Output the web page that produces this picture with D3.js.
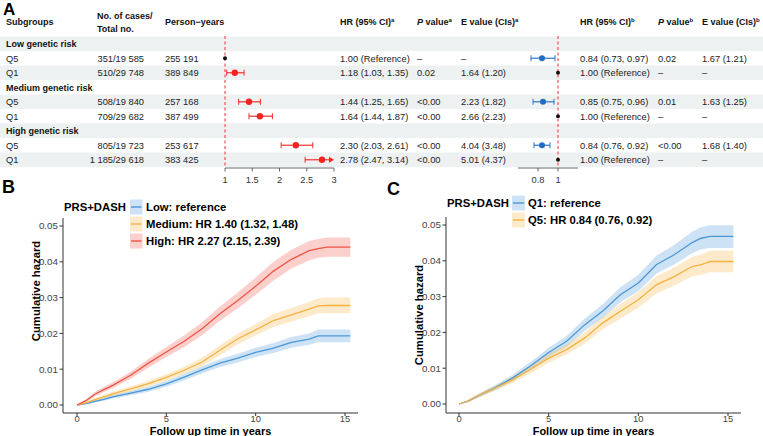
<!DOCTYPE html>
<html>
<head>
<meta charset="utf-8">
<script src="https://cdn.jsdelivr.net/npm/d3@7"></script>
<style>
  body { margin: 0; background: #fff; }
  svg { font-family: "Liberation Sans", Arial, Helvetica, sans-serif; }
</style>
</head>
<body>
<svg id="chart" width="763" height="436"></svg>
<script>
// ---- Panel A table data ----
const subgroups = ["Low genetic risk", "Q5", "Q1", "Medium genetic risk", "Q5", "Q1", "High genetic risk", "Q5", "Q1"];
const isGroup = [true, false, false, true, false, false, true, false, false];
const cases = ["", "351/19 585", "510/29 748", "", "508/19 840", "709/29 682", "", "805/19 723", "1 185/29 618"];
const personYears = ["", "255 191", "389 849", "", "257 168", "387 499", "", "253 617", "383 425"];

const hrA = [null, 1.00, 1.18, null, 1.44, 1.64, null, 2.30, 2.78];
const hrALo = [null, 1.00, 1.03, null, 1.25, 1.44, null, 2.03, 2.47];
const hrAHi = [null, 1.00, 1.35, null, 1.65, 1.87, null, 2.61, 3.14];
const hrAText = ["", "1.00 (Reference)", "1.18 (1.03, 1.35)", "", "1.44 (1.25, 1.65)", "1.64 (1.44, 1.87)", "", "2.30 (2.03, 2.61)", "2.78 (2.47, 3.14)"];
const pA = ["", "–", "0.02", "", "<0.00", "<0.00", "", "<0.00", "<0.00"];
const eA = ["", "–", "1.64 (1.20)", "", "2.23 (1.82)", "2.66 (2.23)", "", "4.04 (3.48)", "5.01 (4.37)"];

const hrB = [null, 0.84, 1.00, null, 0.85, 1.00, null, 0.84, 1.00];
const hrBLo = [null, 0.73, 1.00, null, 0.75, 1.00, null, 0.76, 1.00];
const hrBHi = [null, 0.97, 1.00, null, 0.96, 1.00, null, 0.92, 1.00];
const hrBText = ["", "0.84 (0.73, 0.97)", "1.00 (Reference)", "", "0.85 (0.75, 0.96)", "1.00 (Reference)", "", "0.84 (0.76, 0.92)", "1.00 (Reference)"];
const pB = ["", "0.02", "–", "", "0.01", "–", "", "<0.00", "–"];
const eB = ["", "1.67 (1.21)", "–", "", "1.63 (1.25)", "–", "", "1.68 (1.40)", "–"];

const forestATicks = [1, 1.5, 2, 2.5, 3];
const forestBTicks = [0.8, 1];

// ---- Panel B / C cumulative hazard data ----
const times = [0, 0.5, 1, 1.5, 2, 3, 4, 5, 6, 7, 8, 9, 10, 11, 12, 13, 13.5, 14, 15.3];

const lowEst = [0, 0.0004, 0.0010, 0.0016, 0.0023, 0.0033, 0.0044, 0.0059, 0.0078, 0.0098, 0.0117, 0.0131, 0.0147, 0.0159, 0.0175, 0.0184, 0.0193, 0.0193, 0.0193];
const lowLo = [0, 0.0002, 0.0007, 0.0012, 0.0018, 0.0027, 0.0037, 0.0051, 0.0069, 0.0088, 0.0106, 0.0119, 0.0134, 0.0145, 0.0160, 0.0168, 0.0175, 0.0175, 0.0175];
const lowHi = [0, 0.0006, 0.0013, 0.0020, 0.0028, 0.0039, 0.0051, 0.0067, 0.0087, 0.0108, 0.0128, 0.0143, 0.0160, 0.0173, 0.0190, 0.0200, 0.0211, 0.0211, 0.0211];

const medEst = [0, 0.0006, 0.0015, 0.0023, 0.0031, 0.0045, 0.0060, 0.0077, 0.0097, 0.0120, 0.0153, 0.0185, 0.0210, 0.0236, 0.0252, 0.0268, 0.0277, 0.0278, 0.0278];
const medLo = [0, 0.0004, 0.0011, 0.0018, 0.0025, 0.0038, 0.0052, 0.0068, 0.0087, 0.0108, 0.0139, 0.0170, 0.0194, 0.0218, 0.0233, 0.0248, 0.0256, 0.0256, 0.0256];
const medHi = [0, 0.0008, 0.0019, 0.0028, 0.0037, 0.0052, 0.0068, 0.0086, 0.0107, 0.0132, 0.0167, 0.0200, 0.0226, 0.0254, 0.0271, 0.0288, 0.0298, 0.0300, 0.0300];

const highEst = [0, 0.0012, 0.0030, 0.0043, 0.0055, 0.0083, 0.0117, 0.0148, 0.0178, 0.0213, 0.0255, 0.0292, 0.0332, 0.0374, 0.0407, 0.0431, 0.0437, 0.0441, 0.0441];
const highLo = [0, 0.0008, 0.0024, 0.0036, 0.0047, 0.0073, 0.0105, 0.0134, 0.0162, 0.0195, 0.0235, 0.0270, 0.0308, 0.0348, 0.0381, 0.0404, 0.0411, 0.0414, 0.0414];
const highHi = [0, 0.0016, 0.0036, 0.0050, 0.0063, 0.0093, 0.0129, 0.0162, 0.0194, 0.0231, 0.0275, 0.0314, 0.0356, 0.0400, 0.0434, 0.0458, 0.0464, 0.0468, 0.0468];

const q1Est = [0, 0.0008, 0.0021, 0.0033, 0.0045, 0.0073, 0.0107, 0.0144, 0.0175, 0.0221, 0.0259, 0.0305, 0.0338, 0.0389, 0.0417, 0.0451, 0.0463, 0.0468, 0.0468];
const q1Lo = [0, 0.0005, 0.0016, 0.0027, 0.0038, 0.0064, 0.0096, 0.0131, 0.0160, 0.0204, 0.0240, 0.0284, 0.0315, 0.0364, 0.0390, 0.0421, 0.0432, 0.0436, 0.0436];
const q1Hi = [0, 0.0011, 0.0026, 0.0039, 0.0052, 0.0082, 0.0118, 0.0157, 0.0190, 0.0238, 0.0278, 0.0326, 0.0361, 0.0414, 0.0444, 0.0481, 0.0494, 0.0499, 0.0499];

const q5Est = [0, 0.0008, 0.0021, 0.0033, 0.0044, 0.0068, 0.0097, 0.0128, 0.0152, 0.0184, 0.0226, 0.0259, 0.0291, 0.0333, 0.0356, 0.0384, 0.0389, 0.0398, 0.0398];
const q5Lo = [0, 0.0005, 0.0016, 0.0027, 0.0037, 0.0059, 0.0086, 0.0115, 0.0138, 0.0168, 0.0208, 0.0239, 0.0269, 0.0309, 0.0331, 0.0357, 0.0361, 0.0368, 0.0368];
const q5Hi = [0, 0.0011, 0.0026, 0.0039, 0.0051, 0.0077, 0.0108, 0.0141, 0.0166, 0.0200, 0.0244, 0.0279, 0.0313, 0.0357, 0.0381, 0.0411, 0.0417, 0.0428, 0.0428];

const xTicks = [0, 5, 10, 15];
const yTicks = [0, 0.01, 0.02, 0.03, 0.04, 0.05];

const legendB = ["Low: reference", "Medium: HR 1.40 (1.32, 1.48)", "High: HR 2.27 (2.15, 2.39)"];
const legendC = ["Q1: reference", "Q5: HR 0.84 (0.76, 0.92)"];

const BLUE = "#4a98d6", ORANGE = "#f6b240", RED = "#ef5444";

const svg = d3.select("#chart");

// ================= Panel A =================
const rowY = d3.scaleBand().domain(d3.range(subgroups.length)).range([36.5, 167]);
const rc = i => rowY(i) + rowY.bandwidth() / 2;

svg.append("text").attr("x", 3).attr("y", 15).attr("font-size", 17).attr("font-weight", "bold").text("A");

// row shading
svg.append("g").selectAll("rect").data(d3.range(subgroups.length).filter(i => i % 2 === 0))
  .join("rect")
  .attr("x", 0).attr("width", 763)
  .attr("y", i => rowY(i)).attr("height", rowY.bandwidth())
  .attr("fill", "#eef1f1");

// headers
const hdr = svg.append("g").attr("font-size", 9).attr("font-weight", "bold").attr("fill", "#111");
hdr.append("text").attr("x", 6).attr("y", 25).text("Subgroups");
hdr.append("text").attr("x", 97).attr("y", 19).text("No. of cases/");
hdr.append("text").attr("x", 97).attr("y", 32).text("Total no.");
hdr.append("text").attr("x", 165).attr("y", 25).text("Person\u2212years");

function supHeader(x, parts, sup) {
  const t = hdr.append("text").attr("x", x).attr("y", 25);
  parts.forEach(p => t.append("tspan").attr("font-style", p.italic ? "italic" : null).text(p.s));
  t.append("tspan").attr("font-size", 6).attr("dy", -3.5).text(sup);
}
supHeader(340, [{ s: "HR (95% CI)" }], "a");
supHeader(417, [{ s: "P", italic: true }, { s: " value" }], "a");
supHeader(461, [{ s: "E value (CIs)" }], "a");
supHeader(580, [{ s: "HR (95% CI)" }], "b");
supHeader(658, [{ s: "P", italic: true }, { s: " value" }], "b");
supHeader(702, [{ s: "E value (CIs)" }], "b");

// body text columns
const body = svg.append("g").attr("font-size", 9.3).attr("fill", "#222");
function column(values, x, anchor) {
  body.append("g").selectAll("text").data(values).join("text")
    .attr("x", x).attr("y", (d, i) => rc(i) + 3.3)
    .attr("text-anchor", anchor || "start")
    .text(d => d);
}
body.append("g").selectAll("text").data(subgroups).join("text")
  .attr("x", 6).attr("y", (d, i) => rc(i) + 3.3)
  .attr("font-weight", (d, i) => isGroup[i] ? "bold" : null)
  .attr("font-size", (d, i) => isGroup[i] ? 9 : 9.3)
  .attr("fill", (d, i) => isGroup[i] ? "#111" : "#222")
  .text(d => d);
column(cases, 144, "end");
column(personYears, 165);
column(hrAText, 340);
column(pA, 417);
column(eA, 461);
column(hrBText, 580);
column(pB, 658);
column(eB, 702);

// forest plot helper
function forest(scale, ticks, est, lo, hi, color, dotR) {
  const g = svg.append("g");
  const [d0, d1] = scale.domain();
  g.append("line")
    .attr("x1", scale(1)).attr("x2", scale(1))
    .attr("y1", 36).attr("y2", 168)
    .attr("stroke", "#f03030").attr("stroke-width", 1).attr("stroke-dasharray", "3,2.5");
  // axis
  g.append("line").attr("x1", scale(d0)).attr("x2", scale(d1)).attr("y1", 168).attr("y2", 168)
    .attr("stroke", "#444").attr("stroke-width", 0.8);
  g.selectAll(".tk").data(ticks).join("line")
    .attr("x1", d => scale(d)).attr("x2", d => scale(d)).attr("y1", 168).attr("y2", 171.5)
    .attr("stroke", "#444").attr("stroke-width", 0.8);
  g.selectAll(".tl").data(ticks).join("text")
    .attr("x", d => scale(d)).attr("y", 183).attr("text-anchor", "middle")
    .attr("font-size", 9.3).attr("fill", "#333").text(d => d);

  est.forEach((e, i) => {
    if (e === null) return;
    const y = rc(i);
    if (e === 1 && lo[i] === 1) {
      g.append("circle").attr("cx", scale(e)).attr("cy", y).attr("r", 2).attr("fill", "#111");
      return;
    }
    const over = hi[i] > d1;
    const x1 = scale(lo[i]), x2 = scale(Math.min(hi[i], d1));
    g.append("line").attr("x1", x1).attr("x2", over ? x2 - 3 : x2).attr("y1", y).attr("y2", y)
      .attr("stroke", color).attr("stroke-width", 1.3).attr("opacity", 0.85);
    g.append("line").attr("x1", x1).attr("x2", x1).attr("y1", y - 3).attr("y2", y + 3)
      .attr("stroke", color).attr("stroke-width", 1.1).attr("opacity", 0.85);
    if (over) {
      g.append("path").attr("d", `M${x2},${y} L${x2 - 5},${y - 3} L${x2 - 5},${y + 3} Z`).attr("fill", color);
    } else {
      g.append("line").attr("x1", x2).attr("x2", x2).attr("y1", y - 3).attr("y2", y + 3)
        .attr("stroke", color).attr("stroke-width", 1.1).attr("opacity", 0.85);
    }
    g.append("circle").attr("cx", scale(e)).attr("cy", y).attr("r", dotR).attr("fill", color);
  });
}
forest(d3.scaleLinear().domain([1, 3]).range([225, 334]), forestATicks, hrA, hrALo, hrAHi, "#f52222", 3.2);
forest(d3.scaleLinear().domain([0.6, 1.2]).range([518, 578]), forestBTicks, hrB, hrBLo, hrBHi, "#1f6ec4", 3);

// ================= Panels B & C =================
function hazardPanel(opts) {
  const { letter, lx, ly, px0, px1, py0, py1, x, y, series, legend, legY, keyX, keyW, labX, titleY } = opts;
  svg.append("text").attr("x", lx).attr("y", ly).attr("font-size", 18).attr("font-weight", "bold").text(letter);
  const g = svg.append("g");

  series.forEach(s => {
    const pts = times.map((t, i) => ({ t, e: s.est[i], lo: s.lo[i], hi: s.hi[i] }));
    g.append("path").datum(pts)
      .attr("d", d3.area().x(d => x(d.t)).y0(d => y(d.lo)).y1(d => y(d.hi)))
      .attr("fill", s.color).attr("opacity", 0.28);
  });
  series.forEach(s => {
    const pts = times.map((t, i) => ({ t, e: s.est[i] }));
    g.append("path").datum(pts)
      .attr("d", d3.line().x(d => x(d.t)).y(d => y(d.e)))
      .attr("fill", "none").attr("stroke", s.color).attr("stroke-width", 1.3);
  });

  // axes lines
  g.append("line").attr("x1", px0).attr("x2", px0).attr("y1", py0).attr("y2", py1).attr("stroke", "#333").attr("stroke-width", 1);
  g.append("line").attr("x1", px0).attr("x2", px1).attr("y1", py1).attr("y2", py1).attr("stroke", "#333").attr("stroke-width", 1);
  g.selectAll(".yt").data(yTicks).join("line")
    .attr("x1", px0 - 3.5).attr("x2", px0).attr("y1", d => y(d)).attr("y2", d => y(d)).attr("stroke", "#333");
  g.selectAll(".yl").data(yTicks).join("text")
    .attr("x", px0 - 5).attr("y", d => y(d) + 3.4).attr("text-anchor", "end")
    .attr("font-size", 9.8).attr("fill", "#444").text(d3.format(".2f"));
  g.selectAll(".xt").data(xTicks).join("line")
    .attr("x1", d => x(d)).attr("x2", d => x(d)).attr("y1", py1).attr("y2", py1 + 3).attr("stroke", "#333");
  g.selectAll(".xl").data(xTicks).join("text")
    .attr("x", d => x(d)).attr("y", py1 + 9.4).attr("text-anchor", "middle")
    .attr("font-size", 9.4).attr("fill", "#444").text(d => d);

  g.append("text").attr("x", (px0 + px1) / 2).attr("y", 434.8).attr("text-anchor", "middle")
    .attr("font-size", 11).attr("font-weight", "bold").text("Follow up time in years");
  g.append("text").attr("transform", `translate(${px0 - 23},${titleY}) rotate(-90)`).attr("text-anchor", "middle")
    .attr("font-size", 11.3).attr("font-weight", "bold").text("Cumulative hazard");

  // legend
  const lg = svg.append("g").attr("font-size", 11.3).attr("font-weight", "bold");
  lg.append("text").attr("x", px0 + 1).attr("y", legY[0] + 4).text("PRS+DASH");
  legend.forEach((lab, i) => {
    const cy = legY[i];
    lg.append("rect").attr("x", keyX).attr("y", cy - 7.5).attr("width", keyW).attr("height", 15)
      .attr("fill", series[i].color).attr("opacity", 0.28);
    lg.append("line").attr("x1", keyX + 1).attr("x2", keyX + keyW - 1).attr("y1", cy).attr("y2", cy)
      .attr("stroke", series[i].color).attr("stroke-width", 1.4);
    lg.append("text").attr("x", labX).attr("y", cy + 4).text(lab);
  });
}

hazardPanel({
  letter: "B", lx: 2, ly: 193,
  px0: 63, px1: 358, py0: 218, py1: 413,
  x: d3.scaleLinear().domain([0, 15]).range([77, 345]),
  y: d3.scaleLinear().domain([0, 0.05]).range([405, 226]),
  series: [
    { est: lowEst, lo: lowLo, hi: lowHi, color: BLUE },
    { est: medEst, lo: medLo, hi: medHi, color: ORANGE },
    { est: highEst, lo: highLo, hi: highHi, color: RED }
  ],
  legend: legendB, legY: [207, 224, 241], keyX: 130, keyW: 12.5, labX: 146, titleY: 291
});

hazardPanel({
  letter: "C", lx: 387, ly: 195,
  px0: 446, px1: 741, py0: 217, py1: 413,
  x: d3.scaleLinear().domain([0, 15]).range([459, 728]),
  y: d3.scaleLinear().domain([0, 0.05]).range([404, 225]),
  series: [
    { est: q1Est, lo: q1Lo, hi: q1Hi, color: BLUE },
    { est: q5Est, lo: q5Lo, hi: q5Hi, color: ORANGE }
  ],
  legend: legendC, legY: [203, 220], keyX: 512, keyW: 13, labX: 528, titleY: 315
});
</script>
</body>
</html>
